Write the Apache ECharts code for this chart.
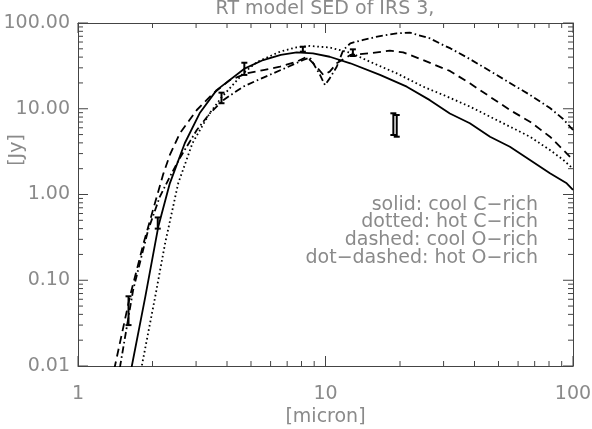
<!DOCTYPE html>
<html>
<head>
<meta charset="utf-8">
<script src="https://cdn.jsdelivr.net/npm/echarts@6/dist/echarts.min.js"></script>
<style>
  html, body { margin: 0; padding: 0; background: #fff; }
  #chart { width: 592px; height: 429px; }
</style>
</head>
<body>
<div id="chart"></div>
<script>
(function() {
  'use strict';

  // model SEDs, [wavelength (micron), flux (Jy)]
  var coolCRich = [[1.6, 0.0063], [1.65, 0.01], [1.87, 0.064], [2.11, 0.42], [2.35, 1.35], [2.7, 3.96],
    [3.1, 8.85], [3.63, 16.5], [4.73, 29.6], [5.6, 37], [6.6, 42.5], [7.65, 45.5], [8.9, 44.3],
    [10.4, 40.4], [12.6, 33.9], [16.6, 24.8], [21.3, 18.1], [26.4, 12.6], [31.8, 8.8], [38.3, 6.77],
    [46.2, 4.72], [55.6, 3.61], [67, 2.53], [80.7, 1.77], [94.3, 1.35], [100, 1.13]];

  var hotCRich = [[1.75, 0.0064], [1.81, 0.01], [2.05, 0.064], [2.25, 0.272], [2.54, 1.35], [2.9, 3.96],
    [3.11, 5.65], [3.41, 8.92], [3.78, 13.3], [4.65, 25.9], [5.29, 35.1], [6.55, 46.3], [7.65, 52.1],
    [8.65, 54], [10.4, 51.8], [12.6, 45], [15.1, 35.4], [19.4, 25.9], [24.8, 18.1], [29.9, 14.5],
    [38.3, 10.6], [46.2, 8.08], [55.6, 6.18], [67, 4.72], [80.7, 3.3], [91.4, 2.53], [100, 2.0]];

  var coolORich = [[1.37, 0.0065], [1.41, 0.01], [1.62, 0.064], [1.84, 0.27], [2.08, 0.94], [2.21, 1.73],
    [2.35, 2.89], [2.58, 5.17], [3.02, 9.67], [3.52, 15.1], [4.11, 21.6], [4.81, 25.9], [5.61, 28.3],
    [6.55, 30.9], [7.65, 35.4], [8.4, 40.4], [9.21, 30.7], [9.8, 24.8], [10.4, 27.1], [11.1, 33.9],
    [12.6, 42.4], [15.1, 44.4], [18.2, 47.5], [20.6, 45.5], [24.8, 37], [29.9, 29.6], [31.8, 27.6],
    [38.3, 19.8], [46.2, 13.8], [55.6, 9.67], [67, 7.06], [80.7, 4.72], [91.4, 3.3], [100, 2.53]];

  var hotORich = [[1.44, 0.0065], [1.48, 0.01], [1.67, 0.077], [1.92, 0.385], [2.14, 0.94], [2.35, 1.61],
    [2.58, 2.67], [2.84, 4.21], [3.02, 5.65], [3.41, 8.85], [3.86, 12.6], [4.65, 18.1], [5.61, 23.1],
    [6.75, 29.1], [8.13, 37], [8.65, 39.6], [9.5, 24.8], [9.95, 18.9], [10.4, 22.6], [11.1, 30.9],
    [11.8, 48.4], [12.6, 58], [14.2, 63.4], [16.6, 70.5], [19.4, 75.8], [21.9, 77.1], [26.4, 66.3],
    [30, 55], [32, 50.5], [38.3, 38], [46.2, 27.6], [55.6, 20], [67, 14.5], [80.7, 10.2],
    [91.2, 7.6], [100, 5.65]];

  // photometry with error bars
  var obsWave = [1.6, 2.1, 3.8, 4.7, 8.1, 12.9, 18.8, 19.4];
  var obsLow = [0.030, 0.40, 11.6, 24.8, 46.3, 41.2, 4.94, 4.72];
  var obsHigh = [0.065, 0.54, 15.4, 34.4, 52.9, 49.3, 8.85, 8.46];

  var xMajorTicks = [1, 10, 100];
  var xMinorTicks = [2, 3, 4, 5, 6, 7, 8, 9, 20, 30, 40, 50, 60, 70, 80, 90];
  var yMajorTicks = [0.01, 0.1, 1, 10, 100];
  var yMinorTicks = [0.02, 0.03, 0.04, 0.05, 0.06, 0.07, 0.08, 0.09, 0.2, 0.3, 0.4, 0.5, 0.6, 0.7, 0.8, 0.9,
    2, 3, 4, 5, 6, 7, 8, 9, 20, 30, 40, 50, 60, 70, 80, 90];

  var legendLines = ['solid: cool C\u2212rich', 'dotted: hot C\u2212rich', 'dashed: cool O\u2212rich', 'dot\u2212dashed: hot O\u2212rich'];

  var ink = '#000';
  var frame = '#444';
  var textGrey = '#8a8a8a';
  var font = 'DejaVu Sans';

  var W = 592, H = 429;
  var grid = { left: 78, right: 19, top: 23, bottom: 63 };
  var xMin = 1, xMax = 100, yMin = 0.01, yMax = 100;
  var majorLen = 10, minorLen = 5;

  // tick length in px -> multiplicative step along each log axis
  var xDecPerPx = Math.log10(xMax / xMin) / (W - grid.left - grid.right);
  var yDecPerPx = Math.log10(yMax / yMin) / (H - grid.top - grid.bottom);
  function xStep(px) { return Math.pow(10, px * xDecPerPx); }
  function yStep(px) { return Math.pow(10, px * yDecPerPx); }

  // tick segments, broken with empty points
  var gap = ['-', '-'];
  var tickSegments = [];
  function addX(v, len) {
    tickSegments.push([v, yMin], [v, yMin * yStep(len)], gap);
    tickSegments.push([v, yMax], [v, yMax / yStep(len)], gap);
  }
  function addY(v, len) {
    tickSegments.push([xMin, v], [xMin * xStep(len), v], gap);
    tickSegments.push([xMax, v], [xMax / xStep(len), v], gap);
  }
  xMajorTicks.forEach(function(v) { addX(v, majorLen); });
  xMinorTicks.forEach(function(v) { addX(v, minorLen); });
  yMajorTicks.forEach(function(v) { addY(v, majorLen); });
  yMinorTicks.forEach(function(v) { addY(v, minorLen); });

  function axis(dim, pos) {
    return {
      type: 'log',
      position: pos,
      min: dim === 'x' ? xMin : yMin,
      max: dim === 'x' ? xMax : yMax,
      splitLine: { show: false },
      axisLine: { show: true, onZero: false, lineStyle: { color: frame, width: 1 } },
      axisTick: { show: false },
      axisLabel: { show: false }
    };
  }

  var xMain = axis('x', 'bottom');
  xMain.axisLabel = {
    show: true, color: textGrey, fontFamily: font, fontSize: 19, margin: 19,
    formatter: function(v) { return String(Math.round(v)); }
  };
  xMain.name = '[micron]';
  xMain.nameLocation = 'middle';
  xMain.nameGap = 42;
  xMain.nameMoveOverlap = false;
  xMain.nameTextStyle = { color: textGrey, fontFamily: font, fontSize: 19 };

  var yMain = axis('y', 'left');
  yMain.axisLabel = {
    show: true, color: textGrey, fontFamily: font, fontSize: 19, margin: 8,
    formatter: function(v) { return v.toFixed(2); }
  };

  function sedSeries(name, data, dash) {
    return {
      name: name,
      type: 'line',
      data: data,
      symbol: 'none',
      clip: true,
      silent: true,
      lineStyle: { color: ink, width: 1.8, type: dash, cap: 'butt' }
    };
  }

  var errData = obsWave.map(function(w, i) { return [w, obsLow[i], obsHigh[i]]; });

  function renderErrorBar(params, api) {
    var x = api.value(0);
    var lo = api.coord([x, api.value(1)]);
    var hi = api.coord([x, api.value(2)]);
    var half = 3;
    var style = { stroke: ink, lineWidth: 2, fill: null };
    return {
      type: 'group',
      children: [
        { type: 'line', shape: { x1: lo[0], y1: lo[1], x2: hi[0], y2: hi[1] }, style: style },
        { type: 'line', shape: { x1: lo[0] - half, y1: lo[1], x2: lo[0] + half, y2: lo[1] }, style: style },
        { type: 'line', shape: { x1: hi[0] - half, y1: hi[1], x2: hi[0] + half, y2: hi[1] }, style: style }
      ]
    };
  }

  var chart = echarts.init(document.getElementById('chart'));

  chart.setOption({
    animation: false,
    grid: { left: grid.left, right: grid.right, top: grid.top, bottom: grid.bottom, outerBoundsMode: 'none' },
    xAxis: [xMain, axis('x', 'top')],
    yAxis: [yMain, axis('y', 'right')],
    series: [
      {
        name: 'ticks',
        type: 'line',
        data: tickSegments,
        symbol: 'none',
        connectNulls: false,
        clip: false,
        silent: true,
        lineStyle: { color: frame, width: 1, type: 'solid' }
      },
      sedSeries('cool C-rich', coolCRich, 'solid'),
      sedSeries('hot C-rich', hotCRich, [1.6, 2.8]),
      sedSeries('cool O-rich', coolORich, [8, 5]),
      sedSeries('hot O-rich', hotORich, [7, 3, 1.6, 3]),
      {
        name: 'observed',
        type: 'custom',
        silent: true,
        data: errData,
        encode: { x: 0, y: [1, 2] },
        renderItem: renderErrorBar
      }
    ]
  });

  chart.setOption({
    title: {
      text: 'RT model SED of IRS 3,',
      left: 325,
      top: 0,
      padding: 0,
      textAlign: 'center',
      textStyle: { color: textGrey, fontFamily: font, fontSize: 19, fontWeight: 'normal' }
    },
    graphic: [{
      type: 'text',
      silent: true,
      style: {
        text: legendLines.join('\n'),
        x: 538,
        y: 196,
        align: 'right',
        verticalAlign: 'top',
        lineHeight: 17.7,
        fill: textGrey,
        font: '19px "DejaVu Sans"'
      }
    }, {
      type: 'text',
      silent: true,
      x: 17,
      y: 150,
      rotation: Math.PI / 2,
      style: {
        text: '[Jy]',
        align: 'center',
        verticalAlign: 'middle',
        fill: textGrey,
        font: '19px "DejaVu Sans"'
      }
    }]
  });

  window.addEventListener('resize', function() {
    chart && chart.resize();
  });
})();
</script>
</body>
</html>
